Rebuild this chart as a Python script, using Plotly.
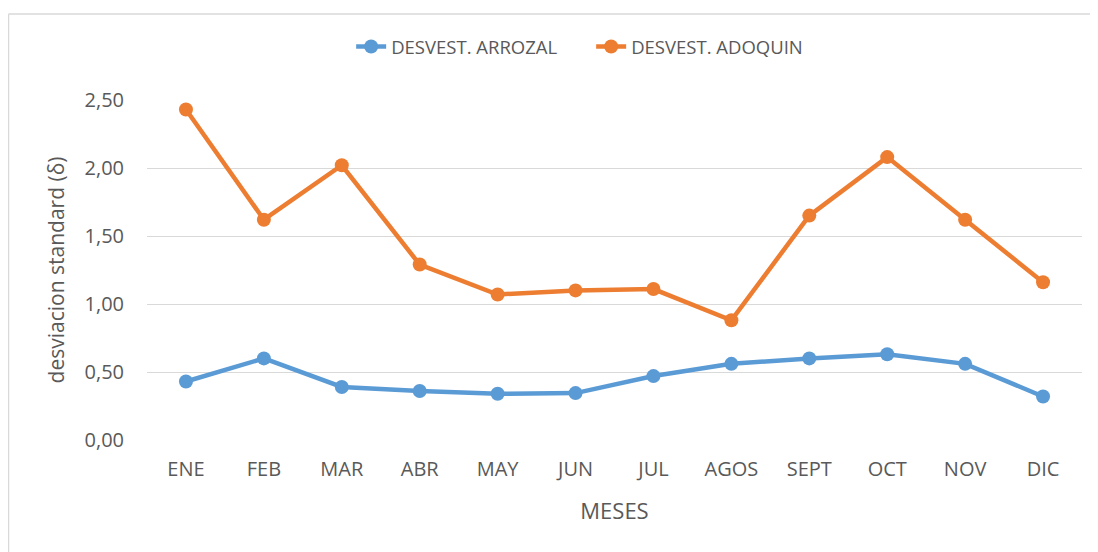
import plotly.graph_objects as go

meses = ["ENE", "FEB", "MAR", "ABR", "MAY", "JUN", "JUL", "AGOS", "SEPT", "OCT", "NOV", "DIC"]
arrozal = [0.43, 0.60, 0.39, 0.36, 0.34, 0.345, 0.47, 0.56, 0.60, 0.63, 0.56, 0.32]
adoquin = [2.43, 1.62, 2.02, 1.29, 1.07, 1.10, 1.11, 0.88, 1.65, 2.08, 1.62, 1.16]
y_ticks = [0, 0.5, 1.0, 1.5, 2.0, 2.5]

BLUE = "#5B9BD5"
ORANGE = "#ED7D31"
TXT = "#595959"
FONT = "Open Sans"

fig = go.Figure()
fig.add_trace(go.Scatter(x=meses, y=arrozal, mode="lines+markers", name="DESVEST. ARROZAL",
                         line=dict(color=BLUE, width=4.5), marker=dict(color=BLUE, size=14)))
fig.add_trace(go.Scatter(x=meses, y=adoquin, mode="lines+markers", name="DESVEST. ADOQUIN",
                         line=dict(color=ORANGE, width=4.5), marker=dict(color=ORANGE, size=14)))

# page has an 8px body margin, so figure coords = photo coords - 8
W, H = 1090, 544
L, R, T, B = 139, 16, 92, 112
pw, ph = W - L - R, H - T - B

fig.update_layout(
    width=W, height=H,
    margin=dict(l=L, r=R, t=T, b=B, autoexpand=False),
    paper_bgcolor="white", plot_bgcolor="white",
    separators=",.",
    font=dict(family=FONT, color=TXT, size=18),
    showlegend=True,
    legend=dict(orientation="h", xref="container", yref="container", x=0.535, y=1 - 39 / H,
                xanchor="center", yanchor="middle", font=dict(size=18.5, color=TXT),
                tracegroupgap=0, entrywidth=195, entrywidthmode="pixels"),
    xaxis=dict(range=[-0.5, 11.5], showgrid=False, showline=False, ticks="", ticklabelstandoff=15,
               automargin=False, tickfont=dict(size=20, color=TXT),
               title=dict(text="MESES", font=dict(size=22, color=TXT), standoff=22)),
    yaxis=dict(range=[0, 2.5], tickvals=y_ticks, tickformat=".2f", showgrid=True,
               gridcolor="#D9D9D9", gridwidth=1.3, zeroline=False, showline=False, ticks="",
               automargin=False, ticklabelstandoff=22, tickfont=dict(size=20, color=TXT),
               title=dict(text="desviacion standard (δ)", font=dict(size=21, color=TXT), standoff=14)),
)

# outer chart border (left and top edges only visible)
bx = (0.5 - L) / pw
by = 1 + (T - 6) / ph
fig.add_shape(type="line", xref="paper", yref="paper", x0=bx, x1=bx, y0=by, y1=-(B + 5) / ph,
              line=dict(color="#D9D9D9", width=1.5))
fig.add_shape(type="line", xref="paper", yref="paper", x0=bx, x1=(W - L + 5) / pw, y0=by, y1=by,
              line=dict(color="#D9D9D9", width=1.5))

fig.write_html("out.html")
